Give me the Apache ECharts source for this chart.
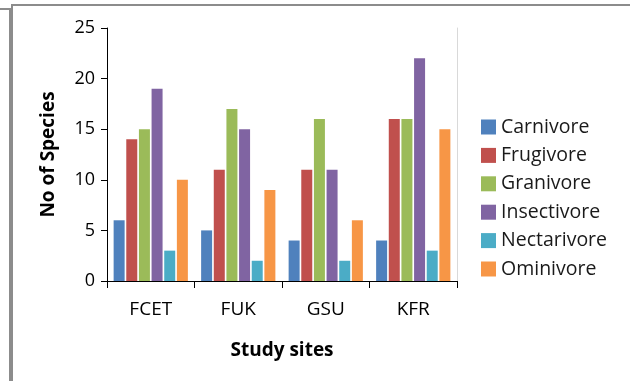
<!DOCTYPE html>
<html>
<head>
<meta charset="utf-8">
<script src="https://cdn.jsdelivr.net/npm/echarts@6/dist/echarts.min.js"></script>
<style>
html,body{margin:0;padding:0;background:#fff;}
#chart{position:absolute;left:0;top:0;width:630px;height:381px;}
.b{position:absolute;border-color:#8c8c8c;border-style:solid;border-width:0;}
</style>
</head>
<body>
<div id="chart"></div>
<div class="b" style="left:0;top:8px;width:9px;height:373px;border-top-width:2px;border-right-width:2px;"></div>
<div class="b" style="left:11px;top:4px;width:619px;height:377px;border-top-width:2px;border-left-width:2px;"></div>
<script>
const categories = ['FCET', 'FUK', 'GSU', 'KFR'];
const carnivore = [6, 5, 4, 4];
const frugivore = [14, 11, 11, 16];
const granivore = [15, 17, 16, 16];
const insectivore = [19, 15, 11, 22];
const nectarivore = [3, 2, 2, 3];
const ominivore = [10, 9, 6, 15];
const yTicks = [0, 5, 10, 15, 20, 25];

const seriesDefs = [
  ['Carnivore', carnivore, '#4F81BD'],
  ['Frugivore', frugivore, '#C0504D'],
  ['Granivore', granivore, '#9BBB59'],
  ['Insectivore', insectivore, '#8064A2'],
  ['Nectarivore', nectarivore, '#4BACC6'],
  ['Ominivore', ominivore, '#F79646']
];
const font = 'Open Sans';
const chart = echarts.init(document.getElementById('chart'), null, {renderer: 'canvas'});
chart.setOption({
  animation: false,
  backgroundColor: 'transparent',
  grid: {left: 107, right: 173, top: 28, bottom: 100},
  legend: {
    orient: 'vertical', left: 481, top: 117, padding: 0,
    itemWidth: 15, itemHeight: 15, itemGap: 8.4,
    icon: 'rect',
    textStyle: {fontFamily: font, fontSize: 19.5, color: '#1a1a1a', padding: [0, 0, 0, 0]},
    data: seriesDefs.map(s => s[0])
  },
  xAxis: {
    type: 'category', data: categories,
    name: 'Study sites', nameLocation: 'middle', nameGap: 60,
    nameTextStyle: {fontFamily: font, fontSize: 19, fontWeight: 'bold', color: '#000'},
    axisLine: {lineStyle: {color: '#000', width: 1}},
    axisTick: {show: true, alignWithLabel: false, length: 7, lineStyle: {color: '#000'}},
    axisLabel: {fontFamily: font, fontSize: 19, color: '#000', margin: 19}
  },
  yAxis: [{
    type: 'value', min: 0, max: 25, interval: 5,
    name: 'No of Species', nameLocation: 'middle', nameGap: 49,
    nameTextStyle: {fontFamily: font, fontSize: 19, fontWeight: 'bold', color: '#000'},
    axisLine: {show: true, lineStyle: {color: '#000', width: 1}},
    axisTick: {show: true, length: 6, lineStyle: {color: '#000'}},
    axisLabel: {fontFamily: font, fontSize: 18, color: '#000', margin: 12,
      formatter: v => yTicks.includes(v) ? String(v) : ''},
    splitLine: {show: false}
  }, {
    type: 'value', min: 0, max: 25, interval: 5, position: 'right',
    axisLine: {show: true, lineStyle: {color: '#d9d9d9', width: 1}},
    axisTick: {show: false}, axisLabel: {show: false}, splitLine: {show: false}
  }],
  series: seriesDefs.map(s => ({
    name: s[0], type: 'bar', data: s[1], barWidth: 11, barGap: '15%',
    itemStyle: {color: s[2]}
  }))
});
</script>
</body>
</html>
